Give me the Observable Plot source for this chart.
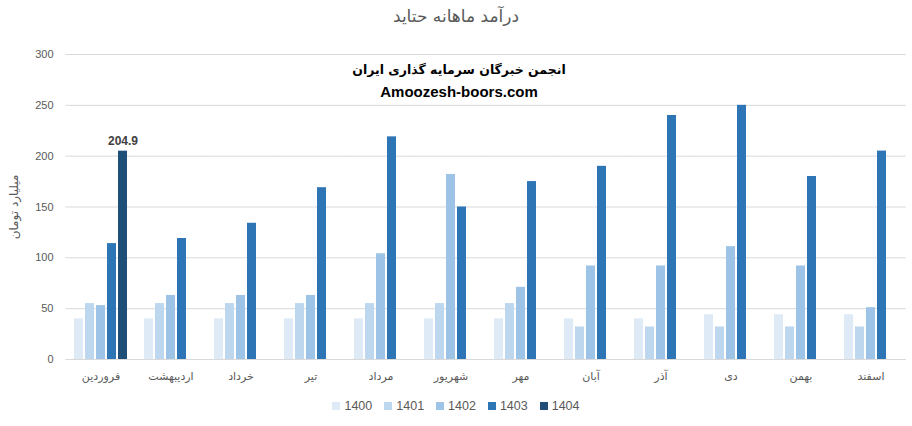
<!DOCTYPE html>
<html>
<head>
<meta charset="utf-8">
<script src="https://cdn.jsdelivr.net/npm/d3@7"></script>
<script src="https://cdn.jsdelivr.net/npm/@observablehq/plot@0.6"></script>
<style>
  html, body { margin: 0; padding: 0; background: #fff; }
  body { width: 912px; height: 426px; position: relative; overflow: hidden; font-family: "Liberation Sans", Arial, sans-serif; }
  #title { position: absolute; left: 0; top: 6px; width: 912px; text-align: center; font-family: "DejaVu Sans", sans-serif; font-size: 17px; color: #595959; direction: rtl; }
  #chart { position: absolute; left: 0; top: 40px; }
  #wm { position: absolute; left: 0; top: 59px; width: 918px; text-align: center; color: #000; font-weight: bold; }
  #wm .fa { font-family: "DejaVu Sans", sans-serif; font-size: 12.5px; direction: rtl; line-height: 22px; }
  #wm .en { font-family: "Liberation Sans", Arial, sans-serif; font-size: 15px; line-height: 22px; }
  #legend { position: absolute; left: 0; top: 399px; width: 912px; display: flex; justify-content: center; gap: 12px; font-size: 12.5px; color: #595959; }
  #legend .item { display: flex; align-items: center; gap: 4px; }
  #legend .sw { width: 8px; height: 8px; display: inline-block; }
</style>
</head>
<body>
<div id="title">درآمد ماهانه حتاید</div>
<div id="chart"></div>
<div id="wm"><div class="fa">انجمن خبرگان سرمایه گذاری ایران</div><div class="en">Amoozesh-boors.com</div></div>
<div id="legend"></div>
<script>
const months = ["فروردین","اردیبهشت","خرداد","تیر","مرداد","شهریور","مهر","آبان","آذر","دی","بهمن","اسفند"];
const years = ["1400","1401","1402","1403","1404"];
const colors = ["#DEEBF7","#BDD7EE","#9DC3E6","#2E75B6","#1F4E79"];
const v1400 = [40,40,40,40,40,40,40,40,40,44,44,44];
const v1401 = [55,55,55,55,55,55,55,32,32,32,32,32];
const v1402 = [53,63,63,63,104,182,71,92,92,111,92,51];
const v1403 = [114,119,134,169,219,150,175,190,240,250,180,205];
const v1404 = [204.9];
const yTicks = [0,50,100,150,200,250,300];

const series = [v1400, v1401, v1402, v1403, v1404];
const data = [];
series.forEach((vals, si) => {
  vals.forEach((v, mi) => data.push({month: months[mi], year: years[si], value: v}));
});
const labeled = data.filter(d => d.year === "1404");

const plot = Plot.plot({
  width: 912,
  height: 350,
  marginTop: 14,
  marginBottom: 31,
  marginLeft: 62,
  marginRight: 4,
  style: {fontFamily: "'Liberation Sans', Arial, sans-serif", fontSize: "11px", color: "#595959", background: "transparent"},
  fx: {domain: months, paddingInner: 0.22, paddingOuter: 0.11, label: null},
  x: {domain: years, paddingInner: 0.22, paddingOuter: 0.04, axis: null},
  y: {domain: [0, 300], label: null},
  color: {domain: years, range: colors},
  marks: [
    Plot.ruleY(yTicks, {stroke: "#d9d9d9", strokeWidth: 1, insetLeft: -7.75, insetRight: -7.75}),
    Plot.barY(data, {fx: "month", x: "year", y: "value", fill: "year"}),
    Plot.text(labeled, {fx: "month", x: "year", y: "value", text: d => d.value.toFixed(1), lineAnchor: "bottom", dy: -6, fontWeight: "bold", fontSize: 12, fill: "#404040"}),
    Plot.axisY({ticks: yTicks, tickSize: 0, tickPadding: 20, fontSize: 11, fill: "#595959", label: "میلیارد تومان", labelAnchor: "center", labelArrow: "none", labelOffset: 64}),
    Plot.axisFx({anchor: "bottom", tickSize: 0, tickPadding: 13, fontSize: 11, fill: "#595959", fontFamily: "'DejaVu Sans', sans-serif", label: null})
  ]
});
document.getElementById("chart").appendChild(plot);

// enlarge the y-axis title slightly
plot.querySelectorAll("text").forEach(t => {
  if (t.textContent === "میلیارد تومان") { t.style.fontSize = "12px"; t.style.fontFamily = "'DejaVu Sans', sans-serif"; }
});

const legend = document.getElementById("legend");
years.forEach((y, i) => {
  const item = document.createElement("div");
  item.className = "item";
  const sw = document.createElement("span");
  sw.className = "sw";
  sw.style.background = colors[i];
  const t = document.createElement("span");
  t.textContent = y;
  item.appendChild(sw); item.appendChild(t);
  legend.appendChild(item);
});
</script>
</body>
</html>
